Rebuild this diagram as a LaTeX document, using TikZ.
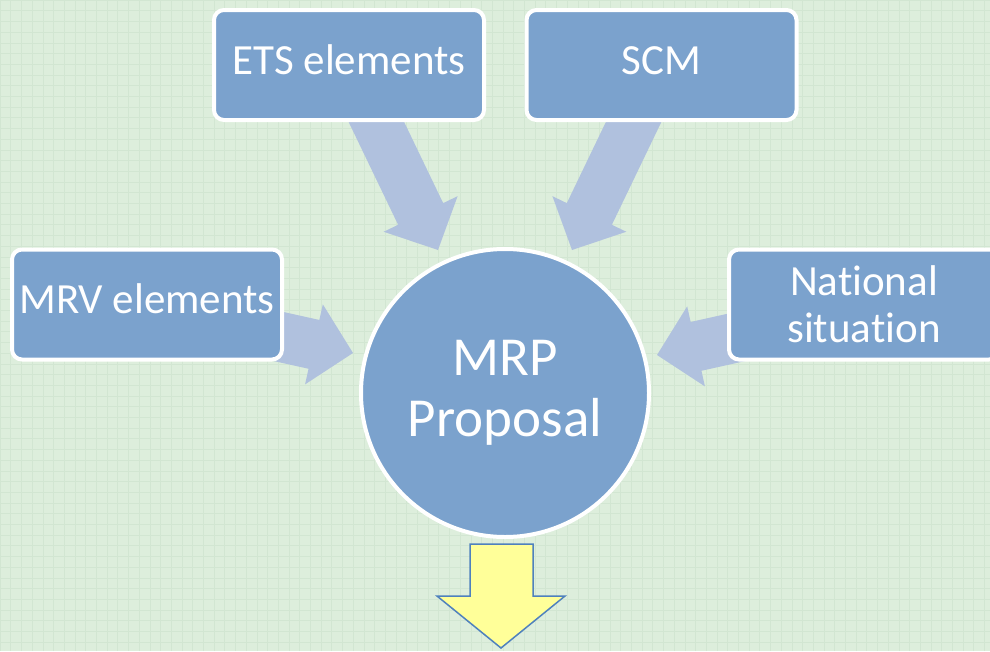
\documentclass[tikz,border=0pt]{standalone}
\usepackage{fontspec}
\setmainfont{Carlito}[Ligatures={NoCommon}]
\definecolor{bg}{RGB}{221,238,220}
\definecolor{gridc}{RGB}{210,230,210}
\definecolor{boxc}{RGB}{123,162,205}
\definecolor{arrc}{RGB}{176,193,222}
\definecolor{yel}{RGB}{255,255,153}
\definecolor{yelline}{RGB}{79,129,189}
\begin{document}
\begin{tikzpicture}[x=1pt,y=-1pt,
  box/.style={draw=white, line width=4pt, fill=boxc, rounded corners=10pt,
    minimum width=270pt, minimum height=110pt, text=white,
    font=\fontsize{43}{47}\selectfont, align=center, inner sep=0pt},
  oneline/.style={text height=32pt, text depth=14pt},
  hub/.style={circle, draw=white, line width=4pt, fill=boxc, minimum size=288pt,
    text=white, font=\fontsize{55}{61}\selectfont, align=center, inner sep=0pt},
  blockarrow/.style={fill=arrc},
  downarrow/.style={fill=yel, draw=yelline, line width=1.5pt, line join=miter}]
\useasboundingbox (0,0) rectangle (990,651);
\fill[bg] (0,0) rectangle (990,651);
\draw[gridc, line width=0.5pt, step=10.7pt] (0,0) grid (990,651);
% block arrows (drawn under the boxes)
\foreach \tip/\ang in {{(438,250)}/-64.3, {(572,250)}/-115.7, {(353,353)}/-12.5, {(657,355)}/-167.5}{
  \fill[blockarrow, shift={\tip}, rotate=\ang]
    (0,0) -- (-40,41) -- (-40,25) -- (-160,25) -- (-160,-25) -- (-40,-25) -- (-40,-41) -- cycle;
}
\node[box, oneline] (ets) at (349,65) {ETS elements};
\node[box, oneline] (scm) at (661.5,65) {SCM};
\node[box, oneline] (mrv) at (147,304.5) {MRV elements};
\node[box] (nat) at (864,304.5) {National\\situation};
\node[hub] (mrp) at (505,393) {MRP\\Proposal};
% yellow down arrow
\coordinate (dtip) at (501,648);
\draw[downarrow] (470,544) -- (533,544) -- (533,596) -- (565,596) -- (dtip) -- (437,596) -- (470,596) -- cycle;
\end{tikzpicture}
\end{document}
